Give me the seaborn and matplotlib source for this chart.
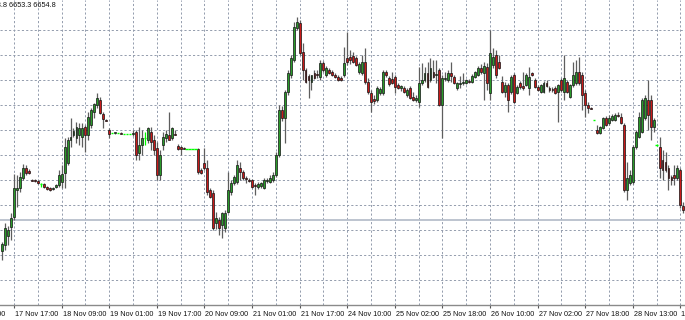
import numpy as np
import pandas as pd
import matplotlib
matplotlib.use("Agg")
import matplotlib.pyplot as plt
import matplotlib.transforms as mtransforms
import seaborn as sns

# ---------------- data (hourly OHLC) ----------------
open_ = [
    6634.5, 6637.5, 6642, 6646.5, 6651.5, 6665, 6666, 6671, 6676, 6674.5,
    6670, 6670, 6669.5, 6668, 6668, 6666.5, 6666, 6665.5, 6666.5, 6667.5,
    6669, 6673.5, 6678.5, 6690, 6692.5, 6691, 6692.5, 6691.5, 6696.5, 6692.5,
    6697.5, 6704, 6707.5, 6710, 6703, 6700, 6695, 6693.5, 6693.5, 6693.5,
    6693.5, 6693, 6693, 6693, 6693, 6694, 6683.5, 6687.5, 6691, 6690,
    6694, 6690, 6686, 6672.5, 6687.5, 6691, 6692.5, 6691, 6693, 6687,
    6686.5, 6686, 6685.5, 6685.5, 6685.5, 6685.5, 6685.5, 6675, 6678.5, 6676,
    6665, 6663.5, 6648.5, 6650, 6647.5, 6646, 6654, 6664, 6668.5, 6669,
    6676, 6674, 6671, 6670, 6670, 6667.5, 6666.5, 6667, 6666, 6669.5,
    6669, 6670, 6672.5, 6682.5, 6705, 6701, 6714, 6722.5, 6730, 6746,
    6748.5, 6734, 6725, 6722, 6719, 6723.5, 6723, 6721.5, 6728.5, 6722.5,
    6725, 6724, 6722.5, 6721.5, 6721, 6722.5, 6731, 6731.5, 6732, 6731,
    6724, 6723.5, 6729, 6719, 6713.5, 6710.5, 6710, 6713.5, 6713.5, 6724,
    6721, 6720.5, 6721.5, 6717.5, 6716, 6716, 6712.5, 6716, 6711.5, 6710,
    6709, 6718.5, 6720, 6723.5, 6720, 6724, 6722.5, 6725, 6707.5, 6720.5,
    6720, 6723.5, 6721.5, 6716, 6718, 6718.5, 6718.5, 6719.5, 6719, 6721.5,
    6722.5, 6726, 6723.5, 6726.5, 6713.5, 6727.5, 6732.5, 6729, 6719, 6714,
    6717.5, 6714, 6722.5, 6713.5, 6718.5, 6717, 6717.5, 6716, 6723.5, 6720,
    6716.5, 6714, 6714, 6718.5, 6716, 6715.5, 6716, 6714, 6720, 6714,
    6719, 6711.5, 6717.5, 6718.5, 6724, 6722.5, 6713.5, 6707.5, 6706, 6700,
    6695, 6693.5, 6696, 6701, 6698.5, 6700, 6700, 6702.5, 6701.5, 6697.5,
    6665, 6668.5, 6669, 6686.5, 6691.5, 6694, 6701, 6710, 6710, 6696.5,
    6687.5, 6686.5, 6680, 6679, 6676, 6671.5, 6672.5, 6671, 6675, 6656.8,
]
high = [
    6639, 6648.5, 6647, 6653.5, 6673, 6672.5, 6674, 6678, 6677.5, 6675.5,
    6670.5, 6670.5, 6670, 6668.5, 6668.5, 6667, 6666.5, 6666.5, 6668, 6675,
    6677.5, 6691, 6691.5, 6701, 6696, 6699, 6698.5, 6698.5, 6697.5, 6704,
    6706, 6708.5, 6713.5, 6711.5, 6704, 6700.5, 6696, 6693.5, 6694, 6693.5,
    6694, 6693, 6693, 6693, 6695, 6695, 6696.5, 6695, 6694, 6696.5,
    6696.5, 6692.5, 6689, 6685, 6694, 6695, 6704, 6696.5, 6695, 6688,
    6687, 6686.5, 6685.5, 6685.5, 6685.5, 6685.5, 6686, 6676, 6686, 6680,
    6666, 6665, 6654, 6651.5, 6654, 6655, 6674, 6670, 6672.5, 6680,
    6679, 6675, 6672, 6671, 6670.5, 6668.5, 6669, 6669, 6671, 6671,
    6672.5, 6674, 6684, 6707.5, 6707, 6715, 6725, 6732.5, 6749, 6751.5,
    6750, 6738.5, 6726, 6723, 6722.5, 6725, 6725, 6730, 6729.5, 6727,
    6726, 6725, 6723.5, 6722.5, 6722, 6736.5, 6744, 6735, 6734, 6732,
    6729, 6732.5, 6736, 6721, 6715, 6712.5, 6717, 6716.5, 6725, 6725,
    6722, 6724, 6722.5, 6718.5, 6717.5, 6717, 6716, 6717, 6714, 6712.5,
    6726.5, 6728.5, 6726.5, 6729, 6731, 6730, 6730, 6726, 6722.5, 6724,
    6725, 6729, 6722.5, 6719, 6722, 6723.5, 6720.5, 6720.5, 6723, 6724.5,
    6727, 6728, 6729, 6728.5, 6745, 6736, 6735, 6732.5, 6722, 6719,
    6718.5, 6722.5, 6723.5, 6717.5, 6719.5, 6724, 6723.5, 6726.5, 6724, 6721,
    6717.5, 6718, 6719.5, 6720, 6717, 6716.5, 6717, 6718, 6721, 6732.5,
    6720, 6718, 6729, 6730, 6731.5, 6724, 6715, 6709, 6706.5, 6700,
    6697.5, 6697, 6701.5, 6702, 6702.5, 6703, 6703.5, 6704, 6703.5, 6698.5,
    6679, 6675, 6687.5, 6695, 6704, 6711, 6712.5, 6720, 6712.5, 6701,
    6688, 6691.5, 6685, 6684, 6677.5, 6672.5, 6677.5, 6677.5, 6676, 6658.8,
]
low = [
    6630, 6635, 6637.5, 6640, 6650, 6656.5, 6664, 6670, 6672.5, 6673,
    6669.5, 6669, 6668, 6666.5, 6666, 6665, 6664.5, 6665, 6666, 6666.5,
    6666, 6666, 6677.5, 6686.5, 6691.5, 6688.5, 6687.5, 6686.5, 6684, 6690,
    6696, 6701, 6706, 6703, 6696, 6699.5, 6691, 6693.5, 6693, 6693.5,
    6693, 6693, 6693, 6693, 6692, 6680, 6680, 6682.5, 6687.5, 6688.5,
    6685, 6682.5, 6670, 6670, 6685, 6689, 6690, 6690, 6692.5, 6685,
    6682.5, 6685.5, 6685.5, 6685.5, 6685.5, 6685.5, 6673, 6673, 6675, 6662.5,
    6661, 6645, 6645.5, 6642.5, 6641, 6644, 6653.5, 6662.5, 6667.5, 6668,
    6670, 6670, 6668.5, 6669, 6666, 6662.5, 6665.5, 6666, 6665.5, 6668.5,
    6668.5, 6669, 6671.5, 6681.5, 6699.5, 6688.5, 6712.5, 6721, 6729, 6745,
    6732.5, 6720, 6718.5, 6711, 6715, 6720.5, 6721, 6720, 6724, 6721.5,
    6723, 6722, 6721, 6719.5, 6719.5, 6721.5, 6727.5, 6728, 6728.5, 6727,
    6723, 6722.5, 6718, 6713, 6704, 6708, 6709, 6712.5, 6712.5, 6721.5,
    6717, 6718, 6713.5, 6715.5, 6714.5, 6713.5, 6711.5, 6710.5, 6709.5, 6709,
    6706.5, 6717.5, 6719, 6716, 6719, 6721, 6718.5, 6707, 6691, 6719.5,
    6719, 6719, 6718, 6715, 6716, 6717.5, 6718, 6718.5, 6718.5, 6721,
    6722, 6723, 6710, 6715, 6710, 6726, 6721, 6725.5, 6713.5, 6711.5,
    6704, 6713, 6708.5, 6713, 6715.5, 6715, 6717, 6712.5, 6722, 6716,
    6714.5, 6713.5, 6713.5, 6716.5, 6714, 6714, 6713, 6699, 6714, 6710,
    6713.5, 6711, 6716.5, 6717.5, 6717.5, 6705, 6701.5, 6703.5, 6705.5, 6700,
    6693, 6693, 6695.5, 6697, 6697.5, 6699.5, 6699.5, 6701.5, 6698, 6664,
    6660, 6667.5, 6668, 6685.5, 6691, 6693.5, 6700, 6695, 6690, 6694,
    6687, 6671, 6670, 6674, 6665, 6667.5, 6667.5, 6670, 6656, 6653.3,
]
close = [
    6638, 6646, 6645, 6651, 6666, 6666, 6671.5, 6676, 6673.5, 6673.5,
    6669.5, 6669.5, 6668.5, 6668, 6666.5, 6665.5, 6665, 6666, 6667.5, 6672.5,
    6673, 6686.5, 6690, 6691.5, 6694.5, 6696.5, 6696, 6696, 6692.5, 6701.5,
    6705, 6708, 6711, 6703.5, 6700.5, 6699.5, 6693, 6693.5, 6694, 6693.5,
    6693, 6693, 6693, 6693, 6693.5, 6682.5, 6687.5, 6691, 6691, 6696,
    6689, 6685, 6672.5, 6682.5, 6691.5, 6693, 6690, 6696, 6692.5, 6685.5,
    6685.5, 6685.5, 6685.5, 6685.5, 6685.5, 6685.5, 6674, 6673.5, 6676, 6664,
    6661.5, 6646, 6651, 6646, 6653.5, 6653.5, 6665, 6668.5, 6671.5, 6677.5,
    6674, 6671, 6670.5, 6669.5, 6666.5, 6667, 6668, 6668.5, 6670, 6670,
    6671, 6672.5, 6682.5, 6705, 6701, 6714, 6723.5, 6731, 6746.5, 6749,
    6733.5, 6725, 6719, 6720, 6722.5, 6721, 6722.5, 6728.5, 6725, 6726,
    6723.5, 6722.5, 6721.5, 6720, 6720, 6728.5, 6729, 6730, 6729, 6727.5,
    6728, 6729, 6719, 6714, 6709, 6709.5, 6716, 6715.5, 6724, 6722.5,
    6718, 6718.5, 6716.5, 6716, 6717, 6714, 6715, 6711, 6710, 6711,
    6718.5, 6720, 6723.5, 6716.5, 6726, 6721.5, 6723, 6707.5, 6721, 6721,
    6723.5, 6722, 6718.5, 6718.5, 6718.5, 6719, 6720, 6719, 6722, 6724,
    6726, 6724, 6727, 6718.5, 6733.5, 6731.5, 6722.5, 6726, 6714, 6717.5,
    6710, 6721.5, 6709, 6716.5, 6716.5, 6716, 6722.5, 6721.5, 6722.5, 6716.5,
    6715, 6717.5, 6718.5, 6717, 6715, 6715, 6713.5, 6717.5, 6715, 6721,
    6714, 6717.5, 6722.5, 6724, 6718.5, 6712.5, 6707.5, 6706, 6705.5, 6700,
    6693.5, 6696.5, 6701, 6697.5, 6701, 6702, 6702.5, 6702, 6698.5, 6665,
    6671, 6672.5, 6686.5, 6694, 6701.5, 6710, 6711, 6702.5, 6696.5, 6700,
    6687.5, 6676, 6675, 6675, 6671, 6670, 6671, 6676, 6657.5, 6654.8,
]

# time-axis labels (one every 16 hourly bars) and the bar they belong to
tick_bars = [-12, 4, 20, 36, 52, 68, 84, 100, 116, 132, 148, 164, 180, 196, 212, 228]
tick_labels = ["17 Nov 01:00", "17 Nov 17:00", "18 Nov 09:00", "19 Nov 01:00",
               "19 Nov 17:00", "20 Nov 09:00", "21 Nov 01:00", "21 Nov 17:00",
               "24 Nov 10:00", "25 Nov 02:00", "25 Nov 18:00", "26 Nov 10:00",
               "27 Nov 02:00", "27 Nov 18:00", "28 Nov 13:00", "1 Dec 05:00"]
header_values = ["6656.8", "6658.8", "6653.3", "6654.8"]
level_price = 6650.0
grid_prices = [6620, 6632.5, 6645, 6657.5, 6670, 6682.5, 6695, 6707.5, 6720, 6732.5, 6745]

# ---------------- styling ----------------
sns.set_theme(style="white")
plt.rcParams['font.family'] = ['Liberation Sans', 'DejaVu Sans']

BULL = "#2a9a2a"
BEAR = "#c81a1a"
WICK = "#5e5e5e"
LIME = "#00ff00"
GRID = "#939cad"
FS = 5.2

df = pd.DataFrame({"open": open_, "high": high, "low": low, "close": close})
df["bar"] = np.arange(len(df))

W, H = 685, 320
fig = plt.figure(figsize=(W / 100, H / 100), dpi=100)
fig.patch.set_facecolor("white")
bottom_px = 15.5
ax = fig.add_axes([0, bottom_px / H, 1, 1 - bottom_px / H])
ax.set_facecolor("white")

x = df["bar"].to_numpy()
o = df["open"].to_numpy(float)
h = df["high"].to_numpy(float)
l = df["low"].to_numpy(float)
c = df["close"].to_numpy(float)
doji = o == c
up = c > o
dn = c < o

# level line
ax.axhline(level_price, color="#b7bfcc", lw=1.3, zorder=1)

# wicks
ax.vlines(x[~doji], l[~doji], h[~doji], color=WICK, lw=0.9, zorder=3)
ax.vlines(x[doji], l[doji], h[doji], color=LIME, lw=0.9, zorder=3)

# bodies
min_h = 0.45
hgt = np.maximum(np.abs(c - o), min_h)
mid = (o + c) / 2
bot = mid - hgt / 2
ax.bar(x[up], hgt[up], bottom=bot[up], width=0.64, color=BULL,
       edgecolor="#141414", linewidth=0.5, zorder=4)
ax.bar(x[dn], hgt[dn], bottom=bot[dn], width=0.64, color=BEAR,
       edgecolor="#141414", linewidth=0.5, zorder=4)
ax.hlines(c[doji], x[doji] - 0.42, x[doji] + 0.42, color=LIME, lw=1.0, zorder=4)

# limits: pixel -> bar mapping (bar i at 2.1 + 2.975 i px)
ax.set_xlim(-0.706, 229.55)
ax.set_ylim(6760 - 304.5 / 2, 6760)

# grid and ticks
in_range = [(b, t) for b, t in zip(tick_bars, tick_labels) if b >= 0]
ax.set_xticks([b for b, _ in in_range])
ax.set_xticklabels([t for _, t in in_range], fontsize=FS, color="#111111")
ax.set_xticks([b + 8 for b, _ in in_range if b + 8 < 229.5], minor=True)
ax.set_yticks(grid_prices)
ax.set_yticklabels([])
ax.tick_params(axis="y", length=0)
ax.tick_params(axis="x", which="major", direction="out", length=2.2, width=0.8,
               color="#555555", pad=2.2, bottom=True)
ax.tick_params(axis="x", which="minor", length=0)
ax.grid(True, which="both", axis="x", color=GRID, lw=0.7, linestyle=(0, (2.2, 2.2)), zorder=0)
ax.grid(True, which="major", axis="y", color=GRID, lw=0.7, linestyle=(0, (2.2, 2.2)), zorder=0)

off = mtransforms.ScaledTranslation(1 / 100, 0, fig.dpi_scale_trans)
for lab in ax.get_xticklabels():
    lab.set_horizontalalignment("left")
    lab.set_transform(lab.get_transform() + off)

# label of the bar left of the view (cut by the figure edge)
off_left = mtransforms.ScaledTranslation(-4 / 100, 0, fig.dpi_scale_trans)
blend = mtransforms.blended_transform_factory(ax.transData, ax.transAxes)
for b, t in zip(tick_bars, tick_labels):
    if b < 0:
        ax.text(b, -6.3 / 304.5, t, transform=blend + off_left,
                ha="left", va="top", fontsize=FS, color="#111111", clip_on=False)

for s in ["top", "left", "right"]:
    ax.spines[s].set_visible(False)
ax.spines["bottom"].set_color("#8a8a8a")
ax.spines["bottom"].set_linewidth(1.0)

# header with the last bar's values (cut at the left edge)
fig.text(9.3 / W, 1 - 5.5 / H, " ".join(header_values[2:]), ha="left", va="center",
         fontsize=FS, color="#111111")
fig.text(7.2 / W, 1 - 5.5 / H, " ".join(header_values[:2]), ha="right", va="center",
         fontsize=FS, color="#111111")

fig.savefig("out.png", dpi=100, facecolor="white")
